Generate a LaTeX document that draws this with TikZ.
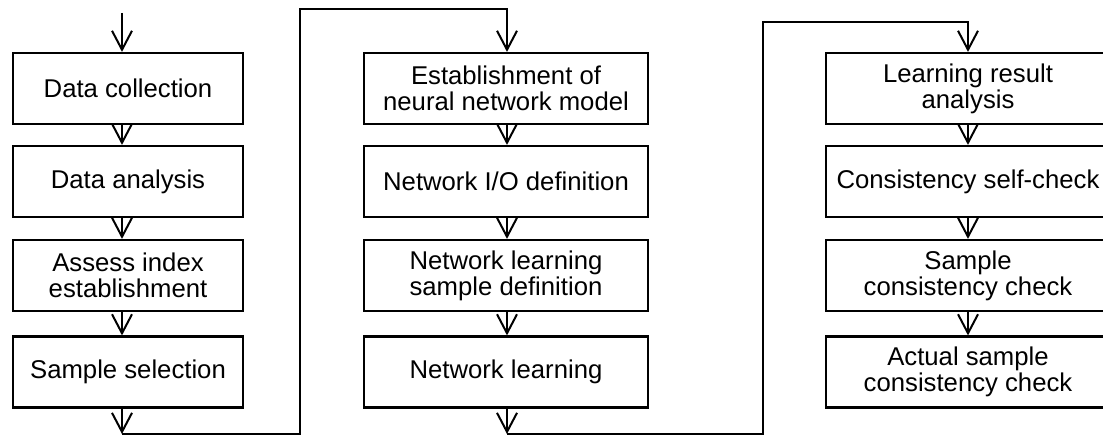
\documentclass[tikz,border=0pt]{standalone}
\usepackage{fontspec}
\setmainfont{Liberation Sans}
\usepackage{tikz}
\usetikzlibrary{arrows.meta}

\tikzset{
    stepbox/.style={draw, line width=2.2pt, align=center, minimum height=71pt,
        inner sep=2pt, font=\fontsize{25.7}{26}\selectfont},
    flow/.style={line width=2pt, -{Straight Barb[length=19pt,width=20pt]}},
}

\begin{document}
\begin{tikzpicture}[x=1pt,y=-1pt]
    \useasboundingbox (0,0) rectangle (1103,436);

    % first column
    \node[stepbox, minimum width=230pt] (b11) at (128,88.5) {Data collection};
    \node[stepbox, minimum width=230pt] (b12) at (128,181.5) {Data analysis};
    \node[stepbox, minimum width=230pt] (b13) at (128,275.5) {Assess index\\establishment};
    \node[stepbox, minimum width=230pt] (b14) at (128,372) {Sample selection};

    % second column
    \node[stepbox, minimum width=284pt] (b21) at (506,88.5) {Establishment of\\neural network model};
    \node[stepbox, minimum width=284pt] (b22) at (506,181.5) {Network I/O definition};
    \node[stepbox, minimum width=284pt] (b23) at (506,275.5) {Network learning\\sample definition};
    \node[stepbox, minimum width=284pt] (b24) at (506,372) {Network learning};

    % third column
    \node[stepbox, minimum width=284pt] (b31) at (968,88.5) {Learning result\\analysis};
    \node[stepbox, minimum width=284pt] (b32) at (968,181.5) {Consistency self-check};
    \node[stepbox, minimum width=284pt] (b33) at (968,275.5) {Sample\\consistency check};
    \node[stepbox, minimum width=284pt] (b34) at (968,372) {Actual sample\\consistency check};

    \coordinate (c1) at (122,0);
    \coordinate (c2) at (507,0);
    \coordinate (c3) at (968,0);
    \coordinate (start) at (122,13);
    \coordinate (low1) at (300,434);
    \coordinate (high1) at (300,9);
    \coordinate (low2) at (763,434);
    \coordinate (high2) at (763,22);

    \draw[flow] (start) -- (b11.north -| c1);
    \foreach \c in {1,2,3}
        \foreach \i/\j in {1/2,2/3,3/4}
            \draw[flow] (b\c\i.south -| c\c) -- (b\c\j.north -| c\c);

    % links between the columns
    \draw[flow] (b14.south -| c1) -- (c1 |- low1);
    \draw[flow] (c1 |- low1) -- (low1) -- (high1) -- (c2 |- high1) -- (b21.north -| c2);
    \draw[flow] (b24.south -| c2) -- (c2 |- low2);
    \draw[flow] (c2 |- low2) -- (low2) -- (high2) -- (c3 |- high2) -- (b31.north -| c3);
\end{tikzpicture}
\end{document}
